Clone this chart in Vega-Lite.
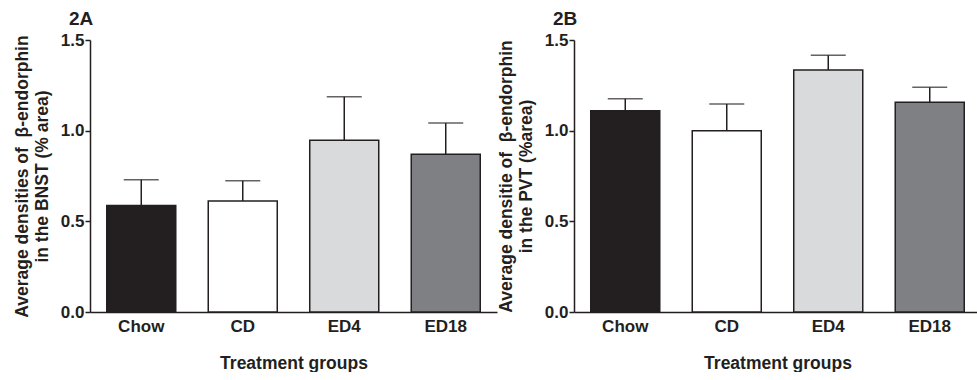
{
  "$schema": "https://vega.github.io/schema/vega-lite/v6.json",
  "padding": {"left": 13, "top": 10, "right": 0, "bottom": 0},
  "spacing": 0,
  "datasets": {
    "A": [
      {"group": "Chow", "value": 0.587, "upper": 0.73},
      {"group": "CD", "value": 0.612, "upper": 0.724},
      {"group": "ED4", "value": 0.947, "upper": 1.187},
      {"group": "ED18", "value": 0.870, "upper": 1.042}
    ],
    "B": [
      {"group": "Chow", "value": 1.110, "upper": 1.176},
      {"group": "CD", "value": 1.0, "upper": 1.147},
      {"group": "ED4", "value": 1.335, "upper": 1.416},
      {"group": "ED18", "value": 1.157, "upper": 1.239}
    ]
  },
  "config": {
    "font": "Liberation Sans",
    "view": {"stroke": null},
    "axis": {
      "domainColor": "#231f20", "domainWidth": 1.5,
      "tickColor": "#231f20", "tickWidth": 1.5,
      "labelColor": "#231f20", "titleColor": "#231f20",
      "labelFont": "Liberation Sans", "titleFont": "Liberation Sans",
      "labelFontWeight": "bold", "titleFontWeight": "bold",
      "labelFontSize": 17, "titleFontSize": 17.5, "grid": false
    },
    "title": {"font": "Liberation Sans", "fontSize": 19, "fontWeight": "bold", "color": "#231f20", "anchor": "start", "frame": "group"}
  },
  "hconcat": [
    {
      "title": {"text": "2A", "dx": -21, "offset": 2},
      "width": 407, "height": 272,
      "data": {"name": "A"},
      "encoding": {
        "x": {"field": "group", "type": "nominal", "sort": ["Chow", "CD", "ED4", "ED18"],
              "scale": {"paddingInner": 0.32, "paddingOuter": 0.165},
              "axis": {"title": "Treatment groups", "labelAngle": 0, "ticks": false, "labelPadding": 6, "titlePadding": 20}}
      },
      "layer": [
        {
          "mark": {"type": "bar", "stroke": "#231f20", "strokeWidth": 1.5},
          "encoding": {
            "y": {"field": "value", "type": "quantitative",
                  "scale": {"domain": [0, 1.5], "nice": false},
                  "axis": {"values": [0, 0.5, 1, 1.5], "format": ".1f", "tickSize": 5, "labelPadding": 1, "titlePadding": 9, "titleLineHeight": 20,
                           "title": ["Average densities of \u00a0β-endorphin", "in the BNST (% area)"]}},
            "fill": {"field": "group", "type": "nominal", "legend": null,
                     "scale": {"domain": ["Chow", "CD", "ED4", "ED18"], "range": ["#231f20", "#ffffff", "#d9dadc", "#7f8083"]}}
          }
        },
        {
          "mark": {"type": "rule", "color": "#231f20", "strokeWidth": 1.5},
          "encoding": {"y": {"field": "value", "type": "quantitative"}, "y2": {"field": "upper"}}
        },
        {
          "mark": {"type": "tick", "orient": "horizontal", "color": "#231f20", "thickness": 1.5, "size": 35},
          "encoding": {"y": {"field": "upper", "type": "quantitative"}}
        }
      ]
    },
    {
      "title": {"text": "2B", "dx": -21, "offset": 2},
      "width": 407, "height": 272,
      "data": {"name": "B"},
      "encoding": {
        "x": {"field": "group", "type": "nominal", "sort": ["Chow", "CD", "ED4", "ED18"],
              "scale": {"paddingInner": 0.32, "paddingOuter": 0.165},
              "axis": {"title": "Treatment groups", "labelAngle": 0, "ticks": false, "labelPadding": 6, "titlePadding": 20}}
      },
      "layer": [
        {
          "mark": {"type": "bar", "stroke": "#231f20", "strokeWidth": 1.5},
          "encoding": {
            "y": {"field": "value", "type": "quantitative",
                  "scale": {"domain": [0, 1.5], "nice": false},
                  "axis": {"values": [0, 0.5, 1, 1.5], "format": ".1f", "tickSize": 5, "labelPadding": 1, "titlePadding": 9, "titleLineHeight": 20,
                           "title": ["Average densitie of \u00a0β-endorphin", "in the PVT (%area)"]}},
            "fill": {"field": "group", "type": "nominal", "legend": null,
                     "scale": {"domain": ["Chow", "CD", "ED4", "ED18"], "range": ["#231f20", "#ffffff", "#d9dadc", "#7f8083"]}}
          }
        },
        {
          "mark": {"type": "rule", "color": "#231f20", "strokeWidth": 1.5},
          "encoding": {"y": {"field": "value", "type": "quantitative"}, "y2": {"field": "upper"}}
        },
        {
          "mark": {"type": "tick", "orient": "horizontal", "color": "#231f20", "thickness": 1.5, "size": 35},
          "encoding": {"y": {"field": "upper", "type": "quantitative"}}
        }
      ]
    }
  ]
}
